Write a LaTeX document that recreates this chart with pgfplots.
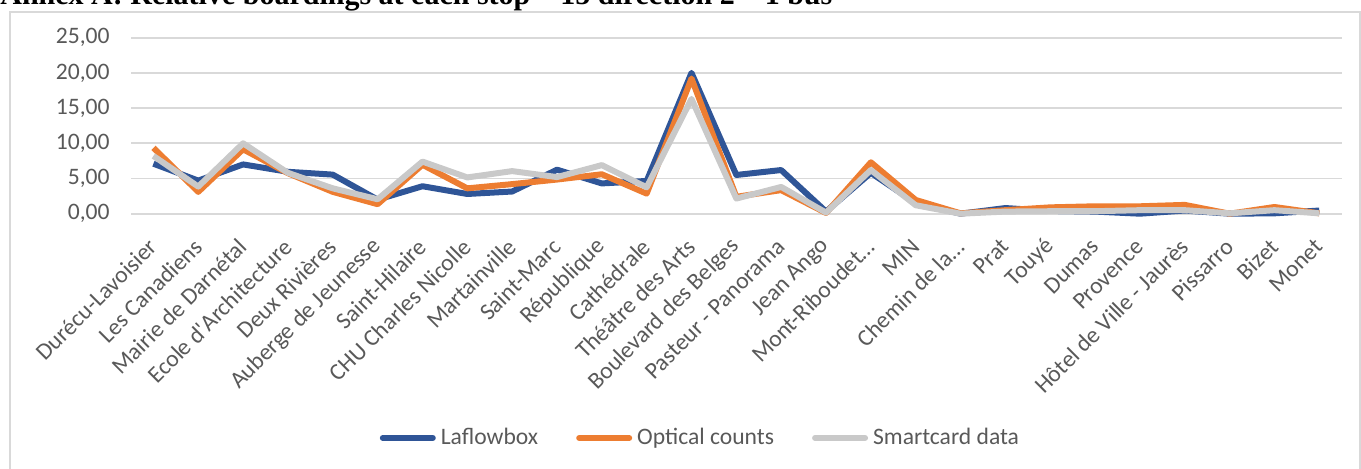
\documentclass[border=0pt]{standalone}
\usepackage{pgfplots}
\usepackage{pgfplotstable}
\pgfplotsset{compat=1.18}
\usepackage{fontspec}
\setmainfont{Carlito}
\newfontfamily\titlefont{Liberation Serif}
\definecolor{cblue}{HTML}{2F5597}
\definecolor{corange}{HTML}{ED7D31}
\definecolor{cgray}{HTML}{C9C9C9}
\definecolor{cgrid}{HTML}{D9D9D9}
\definecolor{ctext}{HTML}{595959}

\pgfplotstableread{
x lf oc sc
0 7.1 9.35 8.2
1 4.7 3.1 3.85
2 7.0 9.15 10.0
3 5.95 5.75 5.8
4 5.55 3.1 3.6
5 2.0 1.35 2.05
6 3.9 6.95 7.4
7 2.8 3.6 5.15
8 3.15 4.2 6.05
9 6.25 4.85 5.2
10 4.3 5.6 6.9
11 4.65 2.85 3.75
12 20.0 19.2 16.3
13 5.5 2.4 2.15
14 6.2 3.35 3.8
15 0.3 0.1 0.15
16 5.8 7.3 6.2
17 1.5 1.95 1.2
18 0.0 0.05 0.0
19 0.8 0.5 0.3
20 0.4 0.9 0.35
21 0.3 1.05 0.35
22 0.0 1.05 0.5
23 0.45 1.25 0.5
24 0.0 0.0 0.05
25 0.05 0.95 0.5
26 0.45 0.05 0.05
}\datatable

\begin{document}
\begin{tikzpicture}[x=0.5pt,y=0.5pt]
\useasboundingbox (0,0) rectangle (1361,469);
\draw[cgrid, line width=1pt] (10,-5) -- (10,457) -- (1360,457) -- (1360,-5);
\node[anchor=base west, inner sep=0pt, font=\titlefont\bfseries\fontsize{15}{18}\selectfont] at (0,464) {Annex A: Relative boardings at each stop – 15 direction 2 – 1 bus};
\begin{axis}[
  at={(65.5pt,127.65pt)}, anchor=south west,
  scale only axis, width=605.35pt, height=88pt,
  xmin=-0.5, xmax=26.5, ymin=0, ymax=25,
  clip=false,
  axis line style={draw=none},
  major tick length=0pt,
  ymajorgrids, grid style={cgrid, line width=0.9pt},
  ytick={0,5,10,15,20,25},
  yticklabel style={/pgf/number format/.cd, fixed, fixed zerofill, precision=2, use comma, assume math mode=true},
  tick label style={font=\fontsize{11.8}{14}\selectfont, text=ctext, inner sep=0pt},
  yticklabel shift=10.5pt,
  xtick={0,...,26},
  xticklabels={{Durécu-Lavoisier},{Les Canadiens},{Mairie de Darnétal},{Ecole d\textquotesingle Architecture},{Deux Rivières},{Auberge de Jeunesse},{Saint-Hilaire},{CHU Charles Nicolle},{Martainville},{Saint-Marc},{République},{Cathédrale},{Théâtre des Arts},{Boulevard des Belges},{Pasteur - Panorama},{Jean Ango},{Mont-Riboudet…},{MIN},{Chemin de la…},{Prat},{Touyé},{Dumas},{Provence},{Hôtel de Ville - Jaurès},{Pissarro},{Bizet},{Monet}},
  xticklabel style={rotate=45, anchor=east},
  xticklabel shift=14.5pt,
  every axis plot/.append style={line width=3pt, line join=round},
  legend image code/.code={\draw[#1, line cap=round] (0pt,0pt) -- (25pt,0pt);},
  legend style={at={(0.2055,-1.2744)}, anchor=west, draw=none, fill=none, inner sep=0pt, outer sep=0pt,
    nodes={inner sep=0pt, text=ctext, font=\fontsize{11.8}{14}\selectfont},
    legend columns=-1,
    /tikz/every odd column/.append style={column sep=2.5pt},
    /tikz/every even column/.append style={column sep=19pt}},
]
\addplot[cblue] table[x=x, y=lf] {\datatable};
\addlegendentry{Laflowbox}
\addplot[corange] table[x=x, y=oc] {\datatable};
\addlegendentry{Optical counts}
\addplot[cgray] table[x=x, y=sc] {\datatable};
\addlegendentry{Smartcard data}
\end{axis}
\end{tikzpicture}
\end{document}
